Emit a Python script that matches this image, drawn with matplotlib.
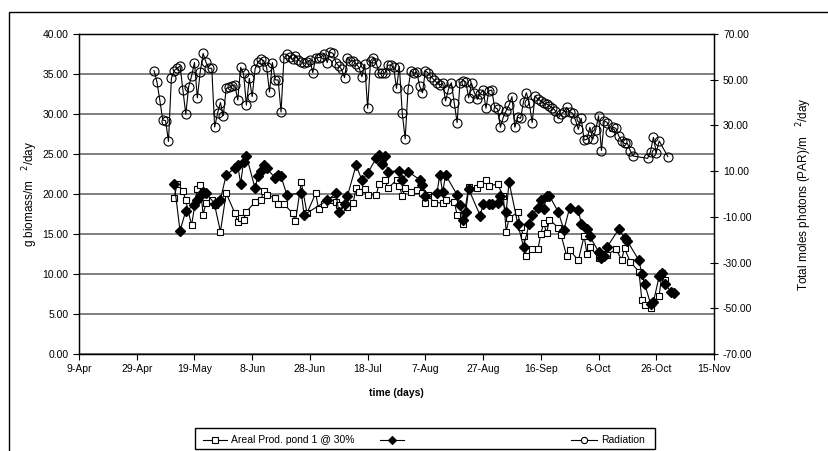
import matplotlib
matplotlib.use("Agg")
import matplotlib.pyplot as plt
from matplotlib.lines import Line2D
from matplotlib.patches import Rectangle

plt.rcParams['font.family'] = ['Liberation Sans', 'DejaVu Sans']

# x axis: days after 9-Apr
tick_days = [0, 20, 40, 60, 80, 100, 120, 140, 160, 180, 200, 220]
tick_labels = ['9-Apr', '29-Apr', '19-May', '8-Jun', '28-Jun', '18-Jul',
               '7-Aug', '27-Aug', '16-Sep', '6-Oct', '26-Oct', '15-Nov']

# areal productivity, pond 1 @ 30% (g biomass/m2/day)
pond1_days = [33, 34, 36, 37, 39, 41, 42, 43, 44, 46, 47, 49, 51, 54, 55, 56, 57, 58,
              61, 63, 64, 65, 68, 69, 71, 74, 75, 77, 79, 82, 83, 85, 88, 89, 90, 93,
              95, 96, 97, 99, 100, 103, 104, 106, 107, 110, 111, 112, 113, 115, 117,
              119, 120, 121, 123, 126, 127, 130, 131, 133, 135, 138, 139, 141, 142,
              145, 147, 148, 149, 152, 153, 154, 155, 157, 159, 160, 161, 162, 163,
              166, 167, 169, 170, 173, 175, 176, 177, 180, 183, 186, 188, 189, 191,
              194, 195, 196, 198, 201, 202, 203]
pond1_prod = [19.5, 21.3, 20.4, 19.2, 16.1, 20.6, 21.1, 17.4, 18.9, 19.3, 18.6, 15.3,
              20.1, 17.6, 16.5, 17.0, 16.8, 17.8, 19.0, 19.2, 20.4, 19.9, 19.5, 18.8,
              18.75, 17.6, 16.6, 21.5, 17.6, 20.1, 18.1, 18.8, 19.25, 19.0, 18.6, 18.4,
              18.9, 20.8, 20.2, 20.6, 19.9, 19.9, 21.3, 21.75, 20.7, 21.75, 21.0, 19.75,
              20.7, 20.3, 20.5, 20.1, 18.9, 19.9, 18.9, 18.9, 19.2, 19.0, 17.4, 16.3,
              20.9, 20.7, 21.3, 21.75, 21.0, 21.25, 19.75, 15.3, 17.0, 17.7, 15.9, 14.75,
              12.2, 13.1, 13.1, 15.0, 16.4, 15.1, 16.8, 15.8, 14.9, 12.2, 13.0, 11.7,
              14.75, 12.5, 13.4, 12.0, 12.4, 13.1, 11.8, 13.2, 11.5, 10.3, 6.75, 6.1,
              5.7, 7.3, 10.1, 9.3]

# second pond (black diamonds, unnamed in the legend)
pond2_days = [33, 35, 37, 40, 41, 42, 43, 44, 47, 48, 49, 51, 54, 55, 56, 57, 58, 61,
              62, 63, 64, 65, 68, 69, 70, 72, 77, 78, 86, 89, 90, 92, 93, 96, 98, 100,
              103, 104, 105, 106, 107, 111, 112, 114, 118, 119, 120, 124, 125, 126,
              127, 131, 132, 133, 134, 135, 139, 140, 142, 143, 145, 146, 148, 149,
              152, 154, 156, 157, 159, 160, 161, 162, 163, 166, 168, 170, 173, 174,
              176, 177, 180, 181, 182, 183, 187, 189, 190, 194, 195, 196, 198, 199,
              201, 202, 203, 205, 206]
pond2_prod = [21.3, 15.4, 17.9, 18.6, 19.2, 19.7, 20.3, 20.1, 18.8, 19.0, 19.3, 22.4,
              23.2, 23.6, 21.3, 24.0, 24.75, 20.7, 22.3, 22.9, 23.6, 23.2, 22.0, 22.4,
              22.2, 19.9, 20.1, 17.4, 19.2, 20.1, 17.8, 18.8, 19.75, 23.6, 21.75, 22.6,
              24.5, 24.9, 23.75, 24.75, 22.8, 22.9, 21.75, 22.8, 21.8, 21.1, 19.8, 20.1,
              22.4, 20.2, 22.4, 19.9, 18.6, 16.8, 17.8, 20.6, 17.3, 18.75, 18.75, 18.75,
              18.9, 19.75, 17.8, 21.5, 16.3, 13.4, 16.3, 17.4, 18.2, 19.25, 18.1, 19.7,
              19.75, 17.8, 15.5, 18.3, 18.0, 16.3, 15.6, 14.7, 12.8, 12.0, 12.3, 13.4,
              15.6, 14.5, 14.1, 11.7, 10.0, 8.75, 6.3, 6.5, 9.7, 10.1, 8.8, 7.8, 7.6]

# radiation, total moles photons (PAR)/m2/day
rad_days = list(range(26, 193)) + [197, 198, 199, 200, 201, 204]
radiation = [54.0, 49.1, 41.0, 32.4, 32.1, 23.0, 50.6, 54.0, 55.0, 56.1, 45.5, 34.9,
             47.0, 51.6, 57.5, 42.1, 53.5, 61.5, 57.6, 55.0, 55.0, 29.3, 35.3, 40.0,
             34.3, 46.2, 46.6, 47.3, 47.7, 41.1, 55.4, 52.8, 38.9, 50.6, 42.6, 54.7,
             57.6, 59.1, 58.3, 55.4, 44.6, 57.5, 49.9, 49.9, 35.9, 59.4, 61.1, 60.1,
             58.9, 60.4, 58.6, 57.8, 57.2, 57.6, 58.6, 53.1, 59.6, 59.6, 60.1, 61.3,
             57.5, 62.1, 61.5, 57.5, 56.0, 54.5, 50.9, 59.6, 58.2, 58.3, 56.9, 55.4,
             51.3, 56.8, 37.5, 58.2, 59.6, 57.2, 52.8, 52.8, 52.8, 56.4,
             56.4, 55.4, 46.2, 55.7, 35.3, 24.1, 45.8, 54.0, 52.8, 53.5, 47.3, 44.3,
             54.0, 52.8, 51.3, 49.9, 48.7, 47.7, 48.4, 40.7, 45.8, 48.7, 40.0, 31.2,
             48.7, 49.6, 49.1, 42.1, 48.4, 44.3, 41.4, 43.8, 45.5, 37.5, 45.2, 45.5,
             37.9, 37.2, 29.2, 33.6, 36.5, 38.9, 42.6, 29.2, 33.6, 33.1, 40.4, 44.3,
             39.7, 31.2, 42.9, 41.4, 40.8, 39.7, 39.4, 38.5, 37.8, 36.5, 33.1, 35.0,
             36.0, 37.9, 36.0, 35.3, 32.4, 28.3, 33.1, 23.6, 23.9, 29.2, 23.9, 28.0,
             34.2, 19.0, 32.1, 31.2, 27.3, 29.2, 28.7, 25.4, 23.3, 22.1, 22.1, 19.0,
             16.6,
             15.6, 18.5, 24.8, 18.1, 23.2, 16.4]

W, H = 829, 451


def fx(x):
    return x / W


def fy(y):
    return 1 - y / H


fig = plt.figure(figsize=(W / 100, H / 100), dpi=100)
ax = fig.add_axes([fx(79), fy(354), (714 - 79) / W, (354 - 34) / H])
ax2 = ax.twinx()

# outer frame
fig.patches.append(Rectangle((fx(9), fy(460)), fx(840) - fx(9), fy(12) - fy(460),
                             transform=fig.transFigure, fill=False,
                             edgecolor='black', lw=1.0))

ax.set_xlim(0, 220)
ax.set_ylim(0, 40)
ax.set_yticks(range(0, 41, 5))
ax.set_yticklabels(['%.2f' % v for v in range(0, 41, 5)])
ax.set_xticks(tick_days)
ax.set_xticklabels(tick_labels)
ax.grid(axis='y', color='#808080', lw=1.4)
ax.set_axisbelow(True)
ax.tick_params(axis='both', labelsize=7.5, length=4, width=0.8, color='black')
ax.tick_params(axis='x', pad=3)
for s in ax.spines.values():
    s.set_linewidth(1.0)

ax.plot(pond1_days, pond1_prod, color='black', lw=0.8, marker='s', ms=5,
        mfc='white', mec='black', mew=0.8, zorder=3)
ax.plot(pond2_days, pond2_prod, color='black', lw=0.8, marker='D', ms=5.5,
        mfc='black', mec='black', zorder=4)

ax2.set_ylim(-70, 70)
ax2.set_yticks(range(-70, 71, 20))
ax2.set_yticklabels(['%.2f' % v for v in range(-70, 71, 20)])
ax2.tick_params(axis='y', labelsize=7.5, length=6, width=0.8, direction='inout')
ax2.plot(rad_days, radiation, color='black', lw=0.8, marker='o', ms=6.5,
         mfc='none', mec='black', mew=0.8, zorder=3)

ax.set_xlabel('time (days)', fontsize=7.5, fontweight='bold', labelpad=10)
ax.set_ylabel('g biomass/m   $^{2}$/day', fontsize=8.5, labelpad=2)
ax2.set_ylabel('Total moles photons (PAR)/m   $^{2}$/day', fontsize=8.5, labelpad=30)

# legend box drawn by hand to copy the spread-out layout
fig.patches.append(Rectangle((fx(195), fy(449)), fx(655) - fx(195), fy(428) - fy(449),
                             transform=fig.transFigure, fill=False,
                             edgecolor='black', lw=1.0))
ly = fy(440)
items = [(203, 227, 's', 'white', 4, 'Areal Prod. pond 1 @ 30%'),
         (380, 404, 'D', 'black', 4.5, ''),
         (571, 597, 'o', 'white', 4.5, 'Radiation')]
for x0, x1, mk, fc, ms, label in items:
    fig.add_artist(Line2D([fx(x0), fx(x1)], [ly, ly], transform=fig.transFigure,
                          color='black', lw=0.8))
    fig.add_artist(Line2D([fx((x0 + x1) / 2)], [ly], transform=fig.transFigure,
                          marker=mk, ms=ms, mfc=fc, mec='black', mew=0.8, lw=0))
    if label:
        fig.text(fx(x1 + 4), ly, label, fontsize=7.5, va='center', ha='left')

fig.savefig('out.png', dpi=100)
